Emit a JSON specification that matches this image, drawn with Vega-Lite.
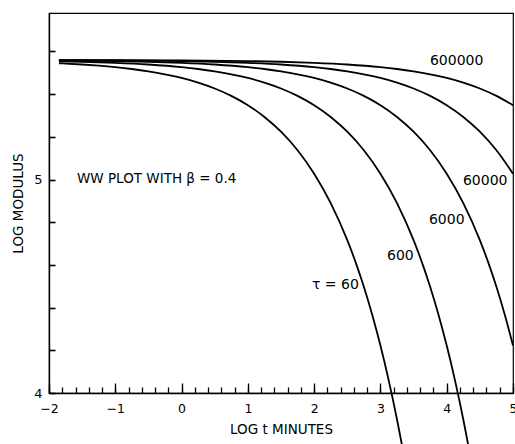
{
  "$schema": "https://vega.github.io/schema/vega-lite/v6.json",
  "width": 464,
  "height": 380,
  "autosize": {"type": "none"},
  "padding": {"left": 49, "top": 13, "right": 2, "bottom": 51},
  "config": {
    "view": {"stroke": "#000", "strokeWidth": 1.2},
    "axis": {
      "grid": false,
      "labelFont": "DejaVu Sans",
      "labelFontSize": 12.5,
      "labelColor": "#000",
      "titleFont": "DejaVu Sans",
      "titleFontSize": 13.5,
      "titleFontWeight": "normal",
      "titleColor": "#000",
      "domainColor": "#000",
      "tickColor": "#000",
      "tickWidth": 1.3
    }
  },
  "datasets": {
    "curves": [
      {"tau": "60", "logt": -1.85, "logE": 5.5446},
      {"tau": "60", "logt": -1.75, "logE": 5.5432},
      {"tau": "60", "logt": -1.5, "logE": 5.5388},
      {"tau": "60", "logt": -1.25, "logE": 5.5333},
      {"tau": "60", "logt": -1, "logE": 5.5264},
      {"tau": "60", "logt": -0.75, "logE": 5.5177},
      {"tau": "60", "logt": -0.5, "logE": 5.5067},
      {"tau": "60", "logt": -0.25, "logE": 5.4929},
      {"tau": "60", "logt": 0, "logE": 5.4756},
      {"tau": "60", "logt": 0.25, "logE": 5.4537},
      {"tau": "60", "logt": 0.5, "logE": 5.4262},
      {"tau": "60", "logt": 0.75, "logE": 5.3916},
      {"tau": "60", "logt": 1, "logE": 5.348},
      {"tau": "60", "logt": 1.25, "logE": 5.2931},
      {"tau": "60", "logt": 1.5, "logE": 5.2239},
      {"tau": "60", "logt": 1.75, "logE": 5.1369},
      {"tau": "60", "logt": 2, "logE": 5.0274},
      {"tau": "60", "logt": 2.25, "logE": 4.8895},
      {"tau": "60", "logt": 2.5, "logE": 4.7159},
      {"tau": "60", "logt": 2.625, "logE": 4.6129},
      {"tau": "60", "logt": 2.75, "logE": 4.4973},
      {"tau": "60", "logt": 2.875, "logE": 4.3676},
      {"tau": "60", "logt": 3, "logE": 4.2221},
      {"tau": "60", "logt": 3.125, "logE": 4.0589},
      {"tau": "60", "logt": 3.25, "logE": 3.8757},
      {"tau": "60", "logt": 3.375, "logE": 3.6702},
      {"tau": "60", "logt": 3.5, "logE": 3.4396},
      {"tau": "600", "logt": -1.85, "logE": 5.5539},
      {"tau": "600", "logt": -1.5, "logE": 5.5516},
      {"tau": "600", "logt": -1, "logE": 5.5466},
      {"tau": "600", "logt": -0.5, "logE": 5.5388},
      {"tau": "600", "logt": 0, "logE": 5.5264},
      {"tau": "600", "logt": 0.25, "logE": 5.5177},
      {"tau": "600", "logt": 0.5, "logE": 5.5067},
      {"tau": "600", "logt": 0.75, "logE": 5.4929},
      {"tau": "600", "logt": 1, "logE": 5.4756},
      {"tau": "600", "logt": 1.25, "logE": 5.4537},
      {"tau": "600", "logt": 1.5, "logE": 5.4262},
      {"tau": "600", "logt": 1.75, "logE": 5.3916},
      {"tau": "600", "logt": 2, "logE": 5.348},
      {"tau": "600", "logt": 2.25, "logE": 5.2931},
      {"tau": "600", "logt": 2.5, "logE": 5.2239},
      {"tau": "600", "logt": 2.75, "logE": 5.1369},
      {"tau": "600", "logt": 3, "logE": 5.0274},
      {"tau": "600", "logt": 3.25, "logE": 4.8895},
      {"tau": "600", "logt": 3.5, "logE": 4.7159},
      {"tau": "600", "logt": 3.625, "logE": 4.6129},
      {"tau": "600", "logt": 3.75, "logE": 4.4973},
      {"tau": "600", "logt": 3.875, "logE": 4.3676},
      {"tau": "600", "logt": 4, "logE": 4.2221},
      {"tau": "600", "logt": 4.125, "logE": 4.0589},
      {"tau": "600", "logt": 4.25, "logE": 3.8757},
      {"tau": "600", "logt": 4.375, "logE": 3.6702},
      {"tau": "600", "logt": 4.5, "logE": 3.4396},
      {"tau": "6000", "logt": -1.85, "logE": 5.5576},
      {"tau": "6000", "logt": -1, "logE": 5.5547},
      {"tau": "6000", "logt": -0.5, "logE": 5.5516},
      {"tau": "6000", "logt": 0, "logE": 5.5466},
      {"tau": "6000", "logt": 0.5, "logE": 5.5388},
      {"tau": "6000", "logt": 1, "logE": 5.5264},
      {"tau": "6000", "logt": 1.25, "logE": 5.5177},
      {"tau": "6000", "logt": 1.5, "logE": 5.5067},
      {"tau": "6000", "logt": 1.75, "logE": 5.4929},
      {"tau": "6000", "logt": 2, "logE": 5.4756},
      {"tau": "6000", "logt": 2.25, "logE": 5.4537},
      {"tau": "6000", "logt": 2.5, "logE": 5.4262},
      {"tau": "6000", "logt": 2.75, "logE": 5.3916},
      {"tau": "6000", "logt": 3, "logE": 5.348},
      {"tau": "6000", "logt": 3.25, "logE": 5.2931},
      {"tau": "6000", "logt": 3.5, "logE": 5.2239},
      {"tau": "6000", "logt": 3.75, "logE": 5.1369},
      {"tau": "6000", "logt": 4, "logE": 5.0274},
      {"tau": "6000", "logt": 4.25, "logE": 4.8895},
      {"tau": "6000", "logt": 4.5, "logE": 4.7159},
      {"tau": "6000", "logt": 4.625, "logE": 4.6129},
      {"tau": "6000", "logt": 4.75, "logE": 4.4973},
      {"tau": "6000", "logt": 4.875, "logE": 4.3676},
      {"tau": "6000", "logt": 5, "logE": 4.2221},
      {"tau": "60000", "logt": -1.85, "logE": 5.559},
      {"tau": "60000", "logt": -1, "logE": 5.5579},
      {"tau": "60000", "logt": 0, "logE": 5.5547},
      {"tau": "60000", "logt": 0.5, "logE": 5.5516},
      {"tau": "60000", "logt": 1, "logE": 5.5466},
      {"tau": "60000", "logt": 1.5, "logE": 5.5388},
      {"tau": "60000", "logt": 2, "logE": 5.5264},
      {"tau": "60000", "logt": 2.25, "logE": 5.5177},
      {"tau": "60000", "logt": 2.5, "logE": 5.5067},
      {"tau": "60000", "logt": 2.75, "logE": 5.4929},
      {"tau": "60000", "logt": 3, "logE": 5.4756},
      {"tau": "60000", "logt": 3.25, "logE": 5.4537},
      {"tau": "60000", "logt": 3.5, "logE": 5.4262},
      {"tau": "60000", "logt": 3.75, "logE": 5.3916},
      {"tau": "60000", "logt": 4, "logE": 5.348},
      {"tau": "60000", "logt": 4.25, "logE": 5.2931},
      {"tau": "60000", "logt": 4.5, "logE": 5.2239},
      {"tau": "60000", "logt": 4.75, "logE": 5.1369},
      {"tau": "60000", "logt": 5, "logE": 5.0274},
      {"tau": "600000", "logt": -1.85, "logE": 5.5596},
      {"tau": "600000", "logt": -1, "logE": 5.5592},
      {"tau": "600000", "logt": 0, "logE": 5.5579},
      {"tau": "600000", "logt": 1, "logE": 5.5547},
      {"tau": "600000", "logt": 1.5, "logE": 5.5516},
      {"tau": "600000", "logt": 2, "logE": 5.5466},
      {"tau": "600000", "logt": 2.5, "logE": 5.5388},
      {"tau": "600000", "logt": 3, "logE": 5.5264},
      {"tau": "600000", "logt": 3.25, "logE": 5.5177},
      {"tau": "600000", "logt": 3.5, "logE": 5.5067},
      {"tau": "600000", "logt": 3.75, "logE": 5.4929},
      {"tau": "600000", "logt": 4, "logE": 5.4756},
      {"tau": "600000", "logt": 4.25, "logE": 5.4537},
      {"tau": "600000", "logt": 4.5, "logE": 5.4262},
      {"tau": "600000", "logt": 4.75, "logE": 5.3916},
      {"tau": "600000", "logt": 5, "logE": 5.348}
    ],
    "labels": [
      {"label": "600000", "logt": 3.747, "logE": 5.554},
      {"label": "60000", "logt": 4.245, "logE": 4.991},
      {"label": "6000", "logt": 3.732, "logE": 4.812},
      {"label": "600", "logt": 3.099, "logE": 4.643},
      {"label": "τ = 60", "logt": 1.967, "logE": 4.507}
    ],
    "note": [
      {"label": "WW PLOT WITH β = 0.4", "logt": -1.578, "logE": 5.002}
    ]
  },
  "resolve": {"axis": {"x": "independent", "y": "independent"}},
  "layer": [
    {
      "data": {"name": "curves"},
      "mark": {"type": "line", "color": "#000", "strokeWidth": 1.8, "interpolate": "monotone", "clip": false},
      "encoding": {
        "x": {
          "field": "logt", "type": "quantitative",
          "scale": {"domain": [-2, 5], "nice": false, "zero": false},
          "axis": {"orient": "bottom", "values": [-2, -1, 0, 1, 2, 3, 4, 5], "ticks": false, "labelPadding": 9, "domainWidth": 1.6, "title": "LOG t MINUTES", "titlePadding": 8, "labelFlush": false}
        },
        "y": {
          "field": "logE", "type": "quantitative",
          "scale": {"domain": [4, 5.78], "nice": false, "zero": false},
          "axis": {"orient": "left", "values": [4, 4.2, 4.4, 4.6, 4.8, 5, 5.2, 5.4, 5.6], "ticks": true, "tickSize": -6, "tickWidth": 1.6, "labelExpr": "datum.value == 4 ? '4' : (datum.value == 5 ? '5' : '')", "labelPadding": 13, "domainWidth": 1.4, "title": "LOG MODULUS", "titlePadding": 8, "labelFontSize": 13}
        },
        "detail": {"field": "tau", "type": "nominal"}
      }
    },
    {
      "data": {"name": "labels"},
      "mark": {"type": "text", "align": "left", "baseline": "middle", "font": "DejaVu Sans", "fontSize": 14, "color": "#000"},
      "encoding": {
        "x": {
          "field": "logt", "type": "quantitative",
          "axis": {"orient": "bottom", "values": [-2, -1.8, -1.6, -1.4, -1.2, -1, -0.8, -0.6, -0.4, -0.2, 0, 0.2, 0.4, 0.6, 0.8, 1, 1.2, 1.4, 1.6, 1.8, 2, 2.2, 2.4, 2.6, 2.8, 3, 3.2, 3.4, 3.6, 3.8, 4, 4.2, 4.4, 4.6, 4.8, 5], "tickSize": 6, "offset": -6, "labels": false, "domain": false, "title": null}
        },
        "y": {
          "field": "logE", "type": "quantitative",
          "axis": null
        },
        "text": {"field": "label", "type": "nominal"}
      }
    },
    {
      "data": {"name": "note"},
      "mark": {"type": "text", "align": "left", "baseline": "middle", "font": "DejaVu Sans", "fontSize": 13.5, "color": "#000"},
      "encoding": {
        "x": {
          "field": "logt", "type": "quantitative",
          "axis": {"orient": "bottom", "values": [-2, -1, 0, 1, 2, 3, 4, 5], "tickSize": 10, "offset": -10, "labels": false, "domain": false, "title": null}
        },
        "y": {
          "field": "logE", "type": "quantitative",
          "axis": null
        },
        "text": {"field": "label", "type": "nominal"}
      }
    }
  ]
}
